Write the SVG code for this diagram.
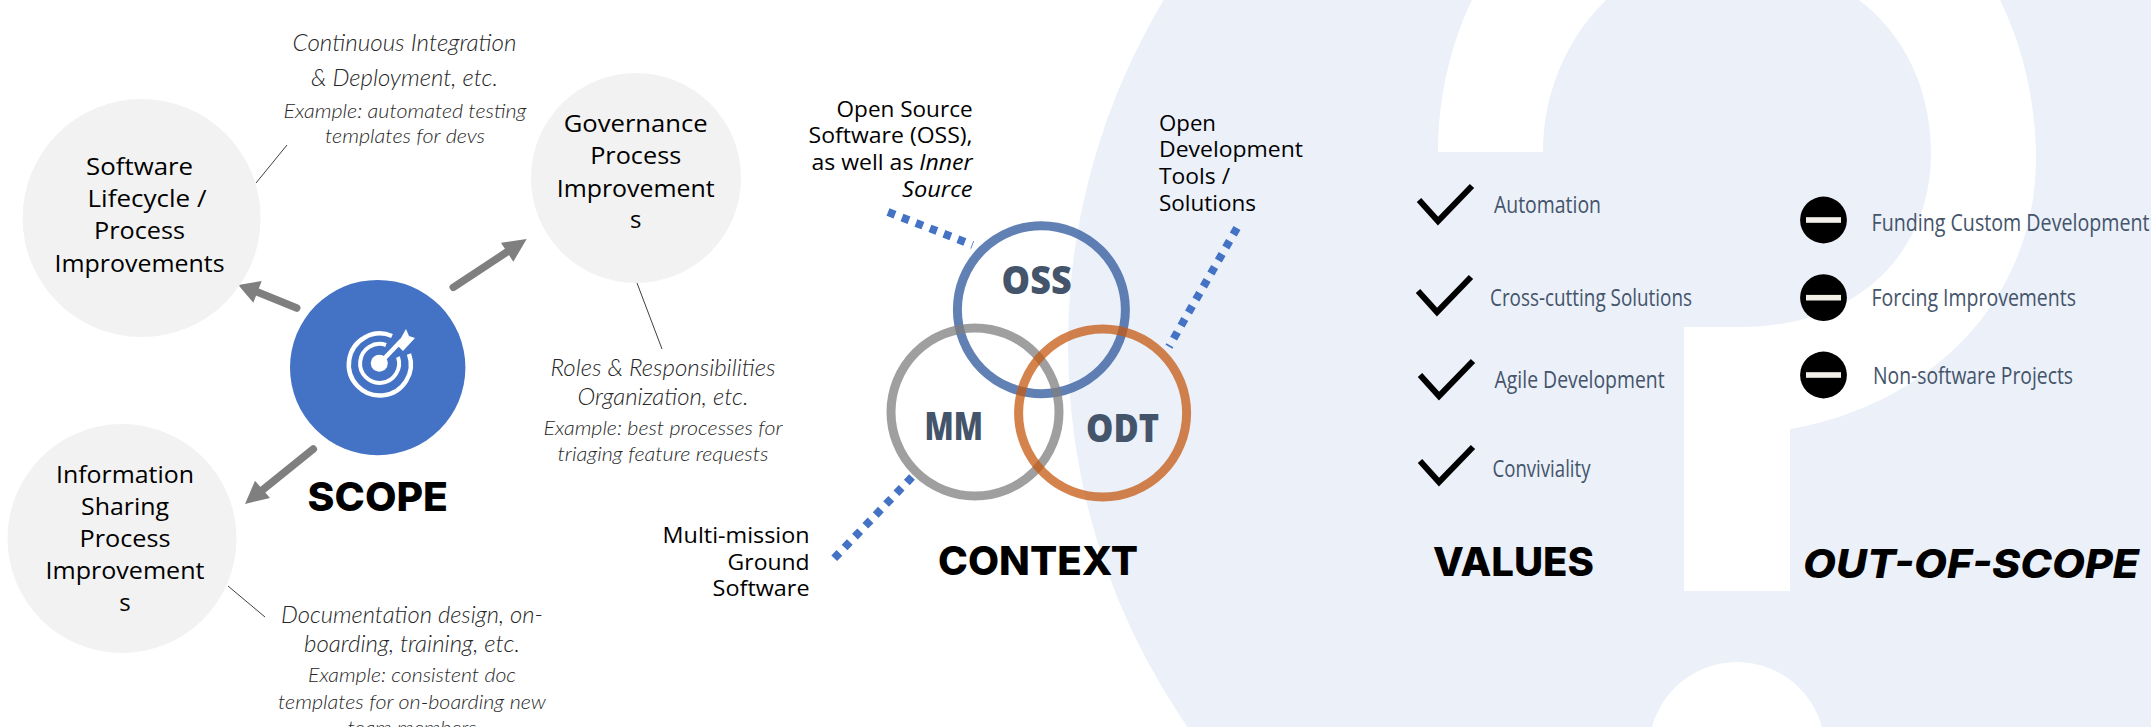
<svg xmlns="http://www.w3.org/2000/svg" width="2151" height="727" viewBox="0 0 2151 727">
<style>
.node{font:400 24px "Open Sans",sans-serif;fill:#000;text-anchor:middle}
.lab{font:400 22px "Open Sans",sans-serif;fill:#000}
.r{text-anchor:end}
.it{font-family:"Lato",sans-serif;font-weight:300;font-style:italic;fill:#262626;text-anchor:middle}
.big{font-size:24px}
.sm{font-size:20px}
.title{font:800 40px "Inter",sans-serif;fill:#000}
.venn{font:800 38px "Open Sans",sans-serif;fill:#44546a;text-anchor:middle}
.item{font:400 23px "Open Sans",sans-serif;fill:#44546a}
.ital{font-style:italic}
.chk{fill:none;stroke:#000;stroke-width:6}
.dot{fill:none;stroke:#4472c4;stroke-width:8;stroke-dasharray:7.5 7.5}
.thin{stroke:#404040;stroke-width:1;fill:none}
.shaft{stroke:#7f7f7f;stroke-width:7.5;stroke-linecap:round;fill:none}
.ring{fill:none;stroke-width:9}
</style>
<defs>
<g id="stop"><circle r="23.4" fill="#000"/><rect x="-17.5" y="-2.8" width="35" height="5.6" fill="#f2efe8"/></g>
<path id="check" class="chk" d="M-18,-15 L1,6 L35,-29"/>
</defs>

<g id="background">
<circle cx="1738" cy="345" r="670" fill="#ebf0f9"/>
<path fill="#fff" d="M1472,0 C1450,45 1438,100 1438,152 L1543,152 C1543,95 1565,40 1606,0 Z"/>
<path fill="#fff" d="M1859,0 C1905,35 1931,90 1931,153 C1931,255 1855,327 1742,327 L1684,327 L1684,591 L1790,591 L1790,429 C1930,405 2036,300 2036,158 C2036,100 2022,45 2000,0 Z"/>
<circle cx="1737" cy="750" r="88" fill="#fff"/>
</g>

<g id="connectors">
<line class="thin" x1="287" y1="145" x2="256" y2="183"/>
<line class="thin" x1="637" y1="283" x2="662" y2="349"/>
<line class="thin" x1="228" y1="586" x2="265" y2="617"/>
<line class="shaft" x1="296.7" y1="308" x2="255" y2="291"/>
<polygon fill="#7f7f7f" points="238.3,285 261.7,281 253.3,302.7"/>
<line class="shaft" x1="453.3" y1="287.3" x2="510" y2="250"/>
<polygon fill="#7f7f7f" points="526.7,239 501,242.7 513.3,261.7"/>
<line class="shaft" x1="313.3" y1="449" x2="260" y2="492"/>
<polygon fill="#7f7f7f" points="245,504 255,480.7 270,498"/>
<line class="dot" x1="888" y1="212" x2="972.6" y2="245"/>
<line class="dot" x1="1237" y1="228" x2="1169" y2="346.7"/>
<line class="dot" x1="912" y1="477" x2="831" y2="561.7"/>
</g>

<g id="node-software">
<circle cx="141.6" cy="218" r="119" fill="#f2f2f2"/>
<text class="node" x="139.6" y="175" textLength="107" lengthAdjust="spacingAndGlyphs">Software</text>
<text class="node" x="147" y="207" textLength="119" lengthAdjust="spacingAndGlyphs">Lifecycle /</text>
<text class="node" x="139.6" y="239" textLength="91" lengthAdjust="spacingAndGlyphs">Process</text>
<text class="node" x="139.6" y="271.7" textLength="170" lengthAdjust="spacingAndGlyphs">Improvements</text>
</g>
<g id="node-governance">
<circle cx="636" cy="178" r="105" fill="#f2f2f2"/>
<text class="node" x="635.7" y="132" textLength="144" lengthAdjust="spacingAndGlyphs">Governance</text>
<text class="node" x="635.7" y="164" textLength="91" lengthAdjust="spacingAndGlyphs">Process</text>
<text class="node" x="635.7" y="196.7" textLength="158" lengthAdjust="spacingAndGlyphs">Improvement</text>
<text class="node" x="635.7" y="228">s</text>
</g>
<g id="node-information">
<circle cx="122" cy="538.5" r="114.5" fill="#f2f2f2"/>
<text class="node" x="125" y="483" textLength="138" lengthAdjust="spacingAndGlyphs">Information</text>
<text class="node" x="125" y="515" textLength="88" lengthAdjust="spacingAndGlyphs">Sharing</text>
<text class="node" x="125" y="546.7" textLength="91" lengthAdjust="spacingAndGlyphs">Process</text>
<text class="node" x="125" y="579" textLength="159" lengthAdjust="spacingAndGlyphs">Improvement</text>
<text class="node" x="125" y="611">s</text>
</g>
<g id="node-scope">
<circle cx="377.7" cy="367.6" r="87.7" fill="#4472c4"/>
<g fill="none" stroke="#fff">
<path stroke-width="4.5" d="M392,336 A31,31 0 1 0 409,354"/>
<path stroke-width="4" d="M386,345 A19.5,19.5 0 1 0 398,357"/>
<path stroke-width="4.5" d="M380,363 L402,340"/>
</g>
<circle cx="379.3" cy="363.3" r="8.5" fill="#fff"/>
<polygon fill="#fff" points="397,345 406,329 409,336 415,338 403,351"/>
<text class="title" x="307.6" y="511" textLength="140.4" lengthAdjust="spacingAndGlyphs">SCOPE</text>
</g>

<g id="notes">
<text class="it big" x="404.5" y="51" textLength="224" lengthAdjust="spacingAndGlyphs">Continuous Integration</text>
<text class="it big" x="404.5" y="86" textLength="187" lengthAdjust="spacingAndGlyphs">&amp; Deployment, etc.</text>
<text class="it sm" x="405" y="118.3" textLength="243" lengthAdjust="spacingAndGlyphs">Example: automated testing</text>
<text class="it sm" x="405" y="142.7" textLength="160" lengthAdjust="spacingAndGlyphs">templates for devs</text>
<text class="it big" x="663" y="376" textLength="225" lengthAdjust="spacingAndGlyphs">Roles &amp; Responsibilities</text>
<text class="it big" x="663" y="405" textLength="171" lengthAdjust="spacingAndGlyphs">Organization, etc.</text>
<text class="it sm" x="663" y="435" textLength="239" lengthAdjust="spacingAndGlyphs">Example: best processes for</text>
<text class="it sm" x="663" y="461" textLength="211" lengthAdjust="spacingAndGlyphs">triaging feature requests</text>
<text class="it big" x="412" y="623" textLength="262" lengthAdjust="spacingAndGlyphs">Documentation design, on-</text>
<text class="it big" x="412" y="651.7" textLength="216" lengthAdjust="spacingAndGlyphs">boarding, training, etc.</text>
<text class="it sm" x="412" y="682.3" textLength="208" lengthAdjust="spacingAndGlyphs">Example: consistent doc</text>
<text class="it sm" x="412" y="709" textLength="268" lengthAdjust="spacingAndGlyphs">templates for on-boarding new</text>
<text class="it sm" x="412" y="735" textLength="129" lengthAdjust="spacingAndGlyphs">team members</text>
</g>

<g id="node-oss">
<circle class="ring" cx="1041.4" cy="309.7" r="84" stroke="#3e64a4" stroke-opacity=".82"/>
<text class="venn" x="1036.6" y="294" textLength="70" lengthAdjust="spacingAndGlyphs">OSS</text>
</g>
<g id="node-mm">
<circle class="ring" cx="975" cy="412" r="84" stroke="#7f7f7f" stroke-opacity=".75"/>
<text class="venn" x="953.7" y="440" textLength="58.5" lengthAdjust="spacingAndGlyphs">MM</text>
</g>
<g id="node-odt">
<circle class="ring" cx="1102.6" cy="413" r="84" stroke="#c55a11" stroke-opacity=".75"/>
<text class="venn" x="1122.5" y="442" textLength="73" lengthAdjust="spacingAndGlyphs">ODT</text>
</g>

<g id="context-labels">
<text class="lab r" x="972.6" y="116.7" textLength="136" lengthAdjust="spacingAndGlyphs">Open Source</text>
<text class="lab r" x="972.6" y="143.3" textLength="164" lengthAdjust="spacingAndGlyphs">Software (OSS),</text>
<text class="lab r" x="972.6" y="170" textLength="161" lengthAdjust="spacingAndGlyphs">as well as <tspan class="ital">Inner</tspan></text>
<text class="lab r ital" x="972.6" y="196.7" textLength="70.5" lengthAdjust="spacingAndGlyphs">Source</text>
<text class="lab" x="1159" y="130.7" textLength="57" lengthAdjust="spacingAndGlyphs">Open</text>
<text class="lab" x="1159" y="157" textLength="144" lengthAdjust="spacingAndGlyphs">Development</text>
<text class="lab" x="1159" y="183.7" textLength="71" lengthAdjust="spacingAndGlyphs">Tools /</text>
<text class="lab" x="1159" y="210.7" textLength="97" lengthAdjust="spacingAndGlyphs">Solutions</text>
<text class="lab r" x="809.6" y="543" textLength="147" lengthAdjust="spacingAndGlyphs">Multi-mission</text>
<text class="lab r" x="809.6" y="570" textLength="82" lengthAdjust="spacingAndGlyphs">Ground</text>
<text class="lab r" x="809.6" y="596" textLength="97" lengthAdjust="spacingAndGlyphs">Software</text>
<text class="title" x="938" y="575" textLength="200" lengthAdjust="spacingAndGlyphs">CONTEXT</text>
</g>

<g id="values">
<use href="#check" x="1437" y="215"/>
<text class="item" x="1494" y="213" textLength="107" lengthAdjust="spacingAndGlyphs">Automation</text>
<use href="#check" x="1436" y="306"/>
<text class="item" x="1490" y="306" textLength="202" lengthAdjust="spacingAndGlyphs">Cross-cutting Solutions</text>
<use href="#check" x="1438" y="390"/>
<text class="item" x="1494.6" y="388" textLength="170" lengthAdjust="spacingAndGlyphs">Agile Development</text>
<use href="#check" x="1438" y="476"/>
<text class="item" x="1492.5" y="476.7" textLength="98" lengthAdjust="spacingAndGlyphs">Conviviality</text>
<text class="title" x="1433" y="575.7" textLength="161" lengthAdjust="spacingAndGlyphs">VALUES</text>
</g>

<g id="out-of-scope">
<use href="#stop" x="1823.5" y="220"/>
<text class="item" x="1871.5" y="231" textLength="278" lengthAdjust="spacingAndGlyphs">Funding Custom Development</text>
<use href="#stop" x="1823.5" y="297.7"/>
<text class="item" x="1871.5" y="306" textLength="204.5" lengthAdjust="spacingAndGlyphs">Forcing Improvements</text>
<use href="#stop" x="1823.5" y="375"/>
<text class="item" x="1873" y="384" textLength="200" lengthAdjust="spacingAndGlyphs">Non-software Projects</text>
<text class="title ital" x="1803" y="578" textLength="336" lengthAdjust="spacingAndGlyphs">OUT-OF-SCOPE</text>
</g>
</svg>
